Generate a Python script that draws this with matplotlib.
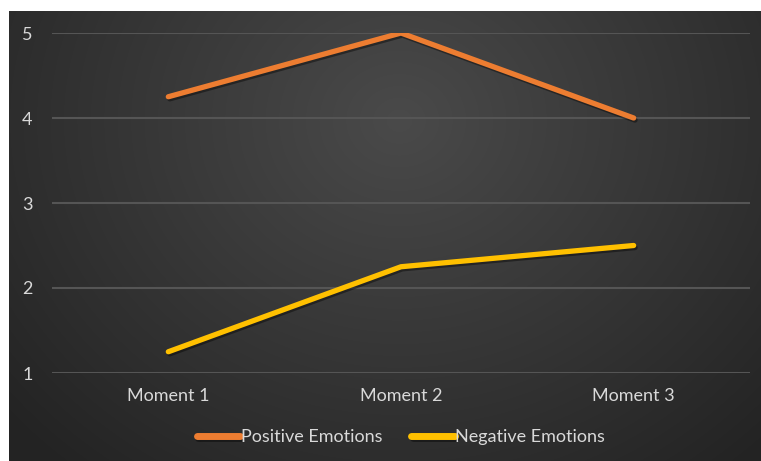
import numpy as np
import matplotlib.pyplot as plt
import matplotlib.patheffects as pe

moments = ["Moment 1", "Moment 2", "Moment 3"]
positive = [4.25, 5.0, 4.0]
negative = [1.25, 2.25, 2.5]
yticks = [1, 2, 3, 4, 5]

W, H = 761, 461
fig = plt.figure(figsize=(W / 100, H / 100), dpi=100)
fig.patch.set_facecolor("white")
plt.rcParams["font.family"] = ["Lato", "DejaVu Sans"]

# dark radial-gradient panel
bg = fig.add_axes([9 / W, 0, 752 / W, 450 / H])
bg.set_axis_off()
yy, xx = np.mgrid[0:450, 0:752]
r = np.sqrt(((xx - 390) / 480.0) ** 2 + ((yy - 110) / 420.0) ** 2)
shade = np.clip(0.29 - 0.14 * r, 0.14, 0.29)
bg.imshow(np.dstack([shade] * 3), aspect="auto", interpolation="bilinear")

ax = fig.add_axes([52 / W, 1 - 373 / H, 698 / W, 340 / H])
ax.patch.set_alpha(0)
x = np.arange(len(moments))
shadow = [pe.SimpleLineShadow(offset=(1, -1.5), shadow_color="black", alpha=0.4), pe.Normal()]
ax.plot(x, positive, color="#ED7D31", lw=3.8, solid_capstyle="round",
        label="Positive Emotions", path_effects=shadow, zorder=3)
ax.plot(x, negative, color="#FFC000", lw=3.8, solid_capstyle="round",
        label="Negative Emotions", path_effects=shadow, zorder=3)

ax.set_xlim(-0.5, 2.5)
ax.set_ylim(1, 5)
ax.set_yticks(yticks)
ax.set_xticks(x, moments)
for y in yticks:
    ax.axhline(y, color="#555555", lw=1.5, zorder=1)
for s in ax.spines.values():
    s.set_visible(False)
ax.tick_params(length=0, colors="#d9d9d9", labelsize=13)
ax.tick_params(axis="y", pad=14)
ax.tick_params(axis="x", pad=11)

leg = ax.legend(loc="center", bbox_to_anchor=(0.5, (373 - 437) / 340), ncol=2,
                frameon=False, fontsize=13, labelcolor="#d9d9d9",
                handlelength=2.4, handletextpad=0.05, columnspacing=1.6)
for h in leg.get_lines():
    h.set_linewidth(5)
    h.set_solid_capstyle("round")

fig.savefig("out.png", dpi=100, facecolor="white")
